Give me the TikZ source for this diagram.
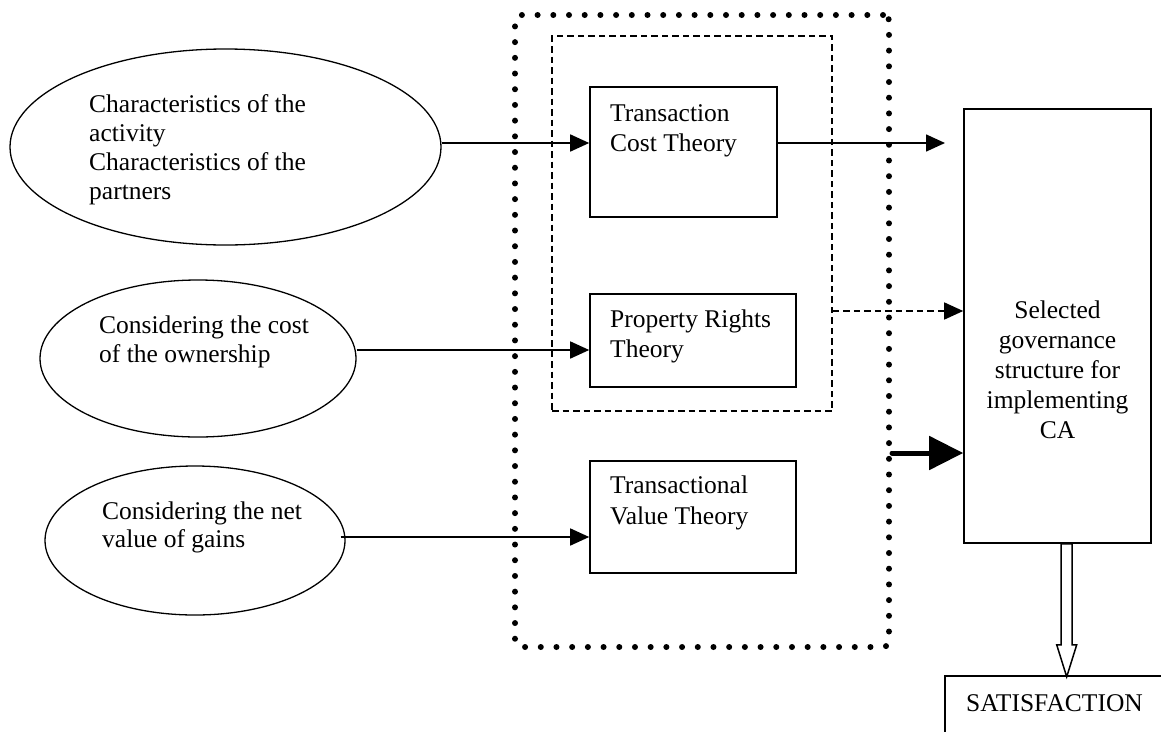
\documentclass[tikz,border=0pt]{standalone}
\usepackage{fontspec}
\setmainfont{Liberation Serif}
\usetikzlibrary{arrows.meta,shapes.geometric,calc}
\begin{document}
\begin{tikzpicture}[x=1pt,y=-1pt,
  txt/.style={font=\fontsize{25.5}{29}\selectfont, align=left, inner sep=0pt, anchor=base west},
  box/.style={draw, line width=1.6pt, rectangle, inner sep=0pt},
  ell/.style={draw, line width=1.3pt, ellipse, inner sep=0pt},
  arr/.style={line width=1.6pt, -{Triangle[length=19pt,width=17pt]}},
  thickarr/.style={line width=5pt, line cap=round, -{Triangle[length=34pt,width=33pt]}},
  dotbox/.style={draw, rectangle, inner sep=0pt, line width=6pt, line cap=round, dash pattern=on 0pt off 15.7pt, rounded corners=6pt},
  dashbox/.style={draw, rectangle, inner sep=0pt, line width=1.5pt, dash pattern=on 6.5pt off 4pt},
  dasharr/.style={line width=1.5pt, dash pattern=on 6.5pt off 4pt, -{Triangle[length=19pt,width=17pt]}}
]
\useasboundingbox (0,0) rectangle (1161,731);

% grouping frames
\node[dotbox, minimum width=374pt, minimum height=632pt] (dot) at (702,331) {};
\node[dashbox, minimum width=280pt, minimum height=375pt] (dash) at (692,223.5) {};

% ellipses (text anchored at the baseline of the last line)
\node[ell, minimum width=431pt, minimum height=196pt] (e1) at (225.5,147) {};
\node[ell, minimum width=316pt, minimum height=157pt] (e2) at (198,358.5) {};
\node[ell, minimum width=300pt, minimum height=149pt] (e3) at (195,540.5) {};
\node[txt] (e1t) at (89,199) {Characteristics of the\\activity\\Characteristics of the\\partners};
\node[txt] (e2t) at (99,362) {Considering the cost\\of the ownership};
\node[txt, font=\fontsize{25.5}{28}\selectfont] (e3t) at (102,547) {Considering the net\\value of gains};

% theory boxes
\node[box, minimum width=187pt, minimum height=130pt] (tct) at (683.5,152) {};
\node[box, minimum width=206pt, minimum height=93pt] (prt) at (693,340.5) {};
\node[box, minimum width=206pt, minimum height=112pt] (tvt) at (693,517) {};
\node[txt, font=\fontsize{25.5}{30}\selectfont] (tctt) at (610,151) {Transaction\\Cost Theory};
\node[txt, font=\fontsize{25.5}{30}\selectfont] (prtt) at (610,357) {Property Rights\\Theory};
\node[txt, font=\fontsize{25.5}{31}\selectfont] (tvtt) at (610,524) {Transactional\\Value Theory};

% outcome boxes
\node[box, minimum width=187pt, minimum height=434pt] (sel) at (1057.5,326) {};
\node[txt, font=\fontsize{25.5}{30}\selectfont, align=center, anchor=base] (selt) at (1057.5,438) {Selected\\governance\\structure for\\implementing\\CA};
\node[box, minimum width=240pt, minimum height=100pt] (sat) at (1065,726) {};
\node[txt] (satt) at (966,711) {SATISFACTION};

% connectors
\draw[arr] ([yshift=4pt]e1.east) -- ([yshift=4pt]e1.east -| tct.west);
\draw[arr] ([yshift=8.5pt]e2.east) -- ([yshift=8.5pt]e2.east -| prt.west);
\draw[arr] ([xshift=-5pt,yshift=3.5pt]e3.east) -- ([yshift=3.5pt]e3.east -| tvt.west);
\coordinate (tctend) at (945,143);
\draw[arr] (tctend -| tct.east) -- (tctend);
\draw[dasharr] ([yshift=15pt]sel.west -| dash.east) -- ([yshift=15pt]sel.west);
\draw[thickarr] ([yshift=-122pt]dot.east) -- ([yshift=-122pt]dot.east -| sel.west);
\draw[line width=1.5pt, fill=white]
  ($(sel.south)+(3.5,0)$) -- ($(sel.south)+(3.5,101)$) -- ($(sel.south)+(-0.8,101)$)
  -- ($(sel.south)+(9.2,133)$) -- ($(sel.south)+(19.2,101)$)
  -- ($(sel.south)+(14.5,101)$) -- ($(sel.south)+(14.5,0)$) -- cycle;
\end{tikzpicture}
\end{document}
